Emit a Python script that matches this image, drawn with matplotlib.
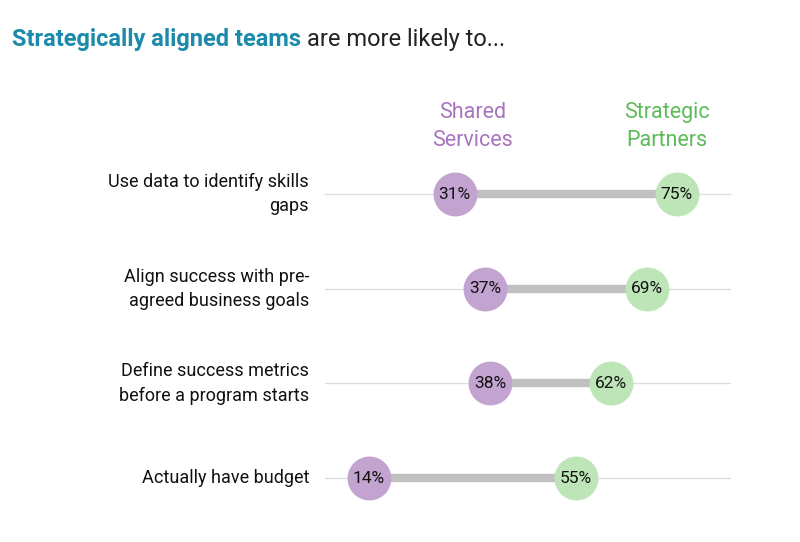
import matplotlib
matplotlib.use("Agg")
import matplotlib.pyplot as plt

plt.rcParams['font.family'] = ['Roboto', 'DejaVu Sans']

# data
questions = ["Use data to identify skills\ngaps",
             "Align success with pre-\nagreed business goals",
             "Define success metrics\nbefore a program starts",
             "Actually have budget"]
shared = [31, 37, 38, 14]
strategic = [75, 69, 62, 55]
groups = ["Shared\nServices", "Strategic\nPartners"]

purple = "#c3a4d1"
green = "#bde5b8"
purple_txt = "#a874bd"
green_txt = "#5dbb5a"
teal = "#1b8aab"

fig = plt.figure(figsize=(8, 5.42), dpi=100)
ax = fig.add_axes([0.3725, 0, 0.62, 1])
ax.set_xlim(0, 98.2)
ax.set_ylim(3.675, -2.05)
ax.axis("off")

rows = range(len(questions))
for i in rows:
    ax.plot([5.3, 85.5], [i, i], color="#dedede", lw=1, zorder=1)
    ax.plot([shared[i], strategic[i]], [i, i], color="#c0c0c0", lw=6,
            solid_capstyle="butt", zorder=2)
    ax.text(2.2, i, questions[i], ha="right", va="center", fontsize=13,
            color="#111111", linespacing=1.45)

ax.scatter(shared, list(rows), s=1000, color=purple, zorder=3, linewidths=0)
ax.scatter(strategic, list(rows), s=1000, color=green, zorder=3, linewidths=0)
for i in rows:
    ax.text(shared[i], i, f"{shared[i]}%", ha="center", va="center",
            fontsize=12.5, color="#111111", zorder=4)
    ax.text(strategic[i], i, f"{strategic[i]}%", ha="center", va="center",
            fontsize=12.5, color="#111111", zorder=4)

# column headers
ax.text(shared[0] + 3.5, -0.71, groups[0], ha="center", va="center",
        fontsize=15.5, color=purple_txt, linespacing=1.45)
ax.text(strategic[0] - 2, -0.71, groups[1], ha="center", va="center",
        fontsize=15.5, color=green_txt, linespacing=1.45)

# title in two styles
t1 = fig.text(0.015, 0.928, "Strategically aligned teams", ha="left", va="center",
              fontsize=17, fontweight="bold", color=teal)
fig.canvas.draw()
bb = t1.get_window_extent()
x2 = (bb.x1 + 6) / fig.bbox.width
fig.text(x2, 0.928, "are more likely to...", ha="left", va="center",
         fontsize=17, color="#222222")

fig.savefig("out.png", dpi=100)
